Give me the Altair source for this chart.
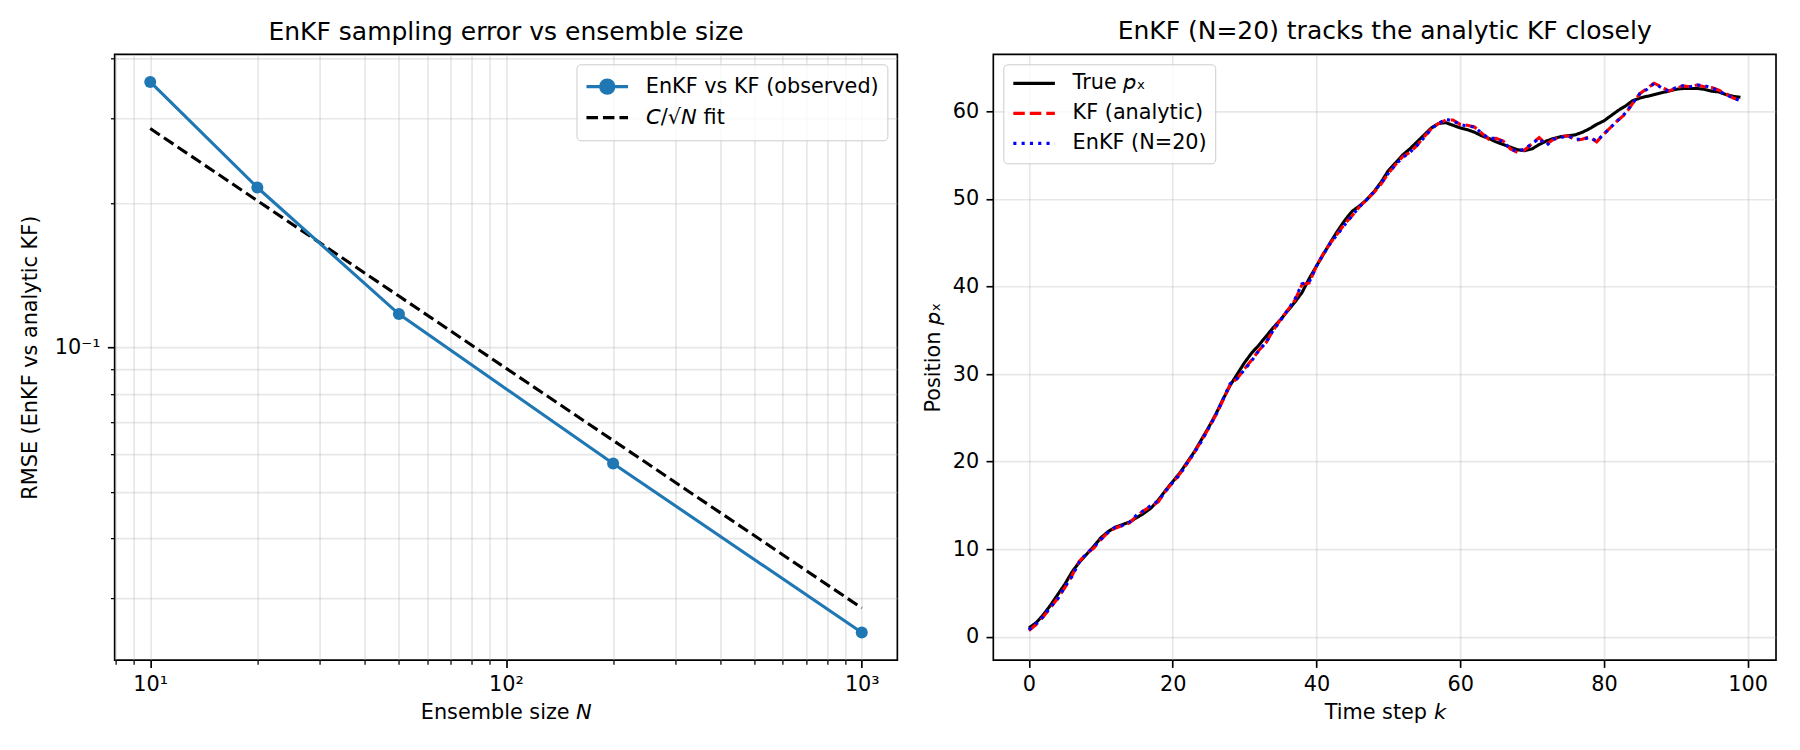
import altair as alt
import pandas as pd

# ---------------- data: left panel ----------------
ensemble_sizes = [10, 20, 50, 200, 1000]
rmse_observed = [0.358, 0.2156, 0.1174, 0.0573, 0.02544]
rmse_fit = [0.2862, 0.2024, 0.1280, 0.0640, 0.02862]

x_ticks_left = [8, 9, 10, 20, 30, 40, 50, 60, 70, 80, 90,
                100, 200, 300, 400, 500, 600, 700, 800, 900, 1000]
y_ticks_left = [0.03, 0.04, 0.05, 0.06, 0.07, 0.08, 0.09, 0.1, 0.2, 0.3, 0.4]

# ---------------- data: right panel ----------------
time_steps = list(range(100))
true_px = [1.0, 1.6, 2.5, 3.6, 4.8, 6.0, 7.4, 8.5, 9.4, 10.3,
           11.3, 12.0, 12.5, 12.8, 13.1, 13.6, 14.1, 14.7, 15.6, 16.7,
           17.7, 18.7, 19.9, 21.1, 22.5, 23.9, 25.4, 27.1, 28.7, 30.0,
           31.3, 32.4, 33.3, 34.3, 35.3, 36.2, 37.2, 38.2, 39.3, 40.9,
           42.3, 43.7, 45.1, 46.4, 47.6, 48.6, 49.2, 49.9, 50.8, 51.9,
           53.2, 54.1, 55.0, 55.7, 56.5, 57.3, 58.1, 58.6, 58.7, 58.4,
           58.1, 57.9, 57.6, 57.2, 56.9, 56.5, 56.2, 55.9, 55.6, 55.5,
           55.7, 56.2, 56.6, 56.9, 57.1, 57.2, 57.3, 57.6, 58.0, 58.5,
           58.9, 59.5, 60.1, 60.6, 61.2, 61.5, 61.7, 61.9, 62.1, 62.3,
           62.5, 62.6, 62.6, 62.6, 62.5, 62.3, 62.2, 61.9, 61.7, 61.6]
kf_px = [0.7, 1.4, 2.3, 3.3, 4.4, 5.6, 7.0, 8.6, 9.5, 10.1,
         11.1, 11.9, 12.4, 12.7, 13.0, 13.8, 14.4, 14.9, 15.4, 16.6,
         17.6, 18.6, 19.8, 21.0, 22.4, 23.8, 25.3, 27.0, 28.8, 29.5,
         30.6, 31.6, 32.7, 33.6, 35.0, 36.2, 37.3, 38.4, 40.2, 40.4,
         42.3, 43.8, 45.0, 46.1, 47.2, 48.1, 49.1, 49.9, 50.7, 51.7,
         52.9, 53.9, 54.8, 55.3, 56.1, 57.1, 58.0, 58.6, 59.0, 59.0,
         58.5, 58.4, 58.2, 57.5, 56.8, 56.9, 56.6, 55.7, 55.3, 55.6,
         56.3, 57.0, 56.2, 56.8, 57.1, 57.2, 56.7, 56.8, 57.1, 56.5,
         57.4, 58.2, 59.0, 59.7, 60.9, 62.0, 62.6, 63.2, 62.8, 62.3,
         62.6, 62.9, 62.8, 63.0, 62.8, 62.7, 62.4, 62.0, 61.5, 61.3]
enkf_px = [0.8, 1.5, 2.3, 3.4, 4.3, 5.7, 6.9, 8.5, 9.5, 10.2,
           11.1, 11.9, 12.5, 12.7, 13.1, 13.9, 14.4, 15.0, 15.5, 16.6,
           17.6, 18.5, 19.8, 21.0, 22.3, 23.8, 25.3, 27.1, 28.9, 29.5,
           30.5, 31.5, 32.7, 33.6, 35.0, 36.1, 37.3, 38.5, 40.3, 40.5,
           42.3, 43.7, 45.0, 46.0, 47.1, 48.1, 49.1, 49.9, 50.8, 51.8,
           52.9, 53.9, 54.7, 55.3, 56.1, 57.0, 58.0, 58.6, 59.1, 58.9,
           58.5, 58.3, 58.2, 57.5, 56.9, 56.9, 56.5, 55.7, 55.4, 55.7,
           56.3, 56.9, 56.1, 56.8, 57.0, 57.2, 56.8, 56.8, 57.0, 56.6,
           57.4, 58.2, 59.0, 59.8, 60.9, 62.0, 62.5, 63.2, 62.7, 62.3,
           62.7, 62.9, 62.8, 63.0, 62.9, 62.7, 62.3, 61.9, 61.5, 61.2]

FONT = "DejaVu Sans"
OBS = "EnKF vs KF (observed)"
FIT = "𝘊/√𝘕 fit"
TRUE = "True 𝘱ₓ"
KF = "KF (analytic)"
ENKF = "EnKF (N=20)"

left_df = pd.DataFrame({
    "N": ensemble_sizes + ensemble_sizes,
    "rmse": rmse_observed + rmse_fit,
    "series": [OBS] * len(ensemble_sizes) + [FIT] * len(ensemble_sizes),
})
right_df = pd.DataFrame({
    "k": time_steps * 3,
    "px": true_px + kf_px + enkf_px,
    "series": [TRUE] * 100 + [KF] * 100 + [ENKF] * 100,
})

LW = 3.1
DASH = [11.5, 5.0]
DOT = [3.1, 5.2]
PW, PH = 783, 606
BLUE = "#1f77b4"

# legend glyphs (unit box [-1, 1] scaled to the 41.6 px handle length)
GLYPH_LINE_DOT = "M-1,0L1,0M0.32,0A0.32,0.32,0,1,1,-0.32,0A0.32,0.32,0,1,1,0.32,0Z"
GLYPH_DASHED = "M-1,0L-0.447,0M-0.207,0L0.346,0M0.586,0L1,0"


def legend_common(orient, row_pad, clip):
    return alt.Legend(title=None, orient=orient, offset=10.4, symbolType="stroke",
                      symbolSize=1730, symbolStrokeWidth=LW, labelFont=FONT,
                      labelFontSize=20.8, labelColor="black", labelOffset=16,
                      padding=8.3, rowPadding=row_pad, clipHeight=clip,
                      strokeColor="#cccccc", fillColor="rgba(255,255,255,0.8)",
                      cornerRadius=4, labelLimit=0, symbolOpacity=1)


def title(text, off):
    return alt.TitleParams(text, fontSize=25, font=FONT, fontWeight="normal", color="black",
                           offset=off, baseline="alphabetic", anchor="middle", frame="group")


def build(use_cond):
    xl = dict(title="Ensemble size 𝘕", values=x_ticks_left,
              labelExpr="datum.value == 10 ? '10¹' : datum.value == 100 ? '10²' : datum.value == 1000 ? '10³' : ''")
    yl = dict(title="RMSE (EnKF vs analytic KF)", values=y_ticks_left, titlePadding=13.5,
              labelExpr="datum.value == 0.1 ? '10⁻¹' : ''")
    if use_cond:
        xt = "datum.value == 10 || datum.value == 100 || datum.value == 1000"
        xl["tickSize"] = {"condition": {"test": xt, "value": 7.3}, "value": 4.2}
        xl["tickWidth"] = {"condition": {"test": xt, "value": 1.67}, "value": 1.25}
        yl["tickSize"] = {"condition": {"test": "datum.value == 0.1", "value": 7.3}, "value": 4.2}
        yl["tickWidth"] = {"condition": {"test": "datum.value == 0.1", "value": 1.67}, "value": 1.25}

    xs = alt.Scale(type="log", domain=[7.943, 1258.9], nice=False)
    ys = alt.Scale(type="log", domain=[0.02229, 0.4087], nice=False)
    X = alt.X("N:Q", scale=xs, axis=alt.Axis(**xl))
    Y = alt.Y("rmse:Q", scale=ys, axis=alt.Axis(**yl))

    base_l = alt.Chart(left_df)
    line_obs = base_l.transform_filter(alt.datum.series == OBS).mark_line(
        strokeWidth=LW, color=BLUE).encode(x=X, y=Y)
    line_fit = base_l.transform_filter(alt.datum.series == FIT).mark_line(
        strokeWidth=LW, color="black", strokeDash=DASH).encode(x=X, y=Y)
    pts_obs = base_l.transform_filter(alt.datum.series == OBS).mark_circle(
        size=145, color=BLUE, opacity=1).encode(x=X, y=Y)
    leg = legend_common("top-right", 3, 28)
    legend_layer = base_l.transform_filter("datum.series == 'no-such-series'").mark_point(
        filled=False, opacity=1, strokeWidth=LW).encode(
        x=X, y=Y,
        stroke=alt.Stroke("series:N", scale=alt.Scale(domain=[OBS, FIT], range=[BLUE, "black"]), legend=leg),
        fill=alt.Fill("series:N", scale=alt.Scale(domain=[OBS, FIT], range=[BLUE, "transparent"]), legend=leg),
        shape=alt.Shape("series:N", scale=alt.Scale(domain=[OBS, FIT], range=[GLYPH_LINE_DOT, GLYPH_DASHED]), legend=leg),
    )
    left = alt.layer(line_fit, line_obs, pts_obs, legend_layer).properties(
        width=PW, height=PH, title=title("EnKF sampling error vs ensemble size", -17.6))

    right_legend = legend_common("top-left", 7, 21.5)
    xr = alt.Scale(domain=[-4.95, 103.95], nice=False, zero=False)
    yr = alt.Scale(domain=[-2.66, 66.5], nice=False, zero=False)
    cs = alt.Scale(domain=[TRUE, KF, ENKF], range=["black", "#ff0000", "#0000ff"])
    ds = alt.Scale(domain=[TRUE, KF, ENKF], range=[[1, 0], DASH, DOT])
    layers = []
    for name in [TRUE, KF, ENKF]:
        layers.append(alt.Chart(right_df).transform_filter(alt.datum.series == name).mark_line(strokeWidth=LW).encode(
            x=alt.X("k:Q", scale=xr, axis=alt.Axis(title="Time step 𝘬", values=[0, 20, 40, 60, 80, 100])),
            y=alt.Y("px:Q", scale=yr, axis=alt.Axis(title="Position 𝘱ₓ", values=[0, 10, 20, 30, 40, 50, 60])),
            color=alt.Color("series:N", scale=cs, legend=right_legend),
            strokeDash=alt.StrokeDash("series:N", scale=ds, legend=right_legend),
        ))
    right = alt.layer(*layers).properties(
        width=PW, height=PH, title=title("EnKF (N=20) tracks the analytic KF closely", -9.5))

    ch = alt.hconcat(left, right, spacing=96, bounds="flush").resolve_scale(
        color="independent", strokeDash="independent", stroke="independent",
        fill="independent", shape="independent"
    ).resolve_legend(color="independent", strokeDash="independent", stroke="independent",
                     fill="independent", shape="independent").properties(
        padding={"left": 18.7, "top": 17.2, "right": 23, "bottom": 10},
        background="white",
    ).configure_view(stroke="black", strokeWidth=1.67).configure_axis(
        labelFont=FONT, labelFontSize=20.8, labelColor="black",
        titleFont=FONT, titleFontSize=20.8, titleFontWeight="normal", titleColor="black",
        tickColor="black", tickWidth=1.67, tickSize=7.3, labelPadding=7.3, titlePadding=8.3,
        gridColor="#b0b0b0", gridOpacity=0.3, gridWidth=1.67, domain=False,
        labelFlush=False, labelOverlap=False,
    ).configure_legend(symbolLimit=0)
    ch.to_dict()
    return ch


try:
    chart = build(True)
except Exception:
    chart = build(False)

chart.save("out.html", embed_options={"renderer": "svg", "actions": False})
